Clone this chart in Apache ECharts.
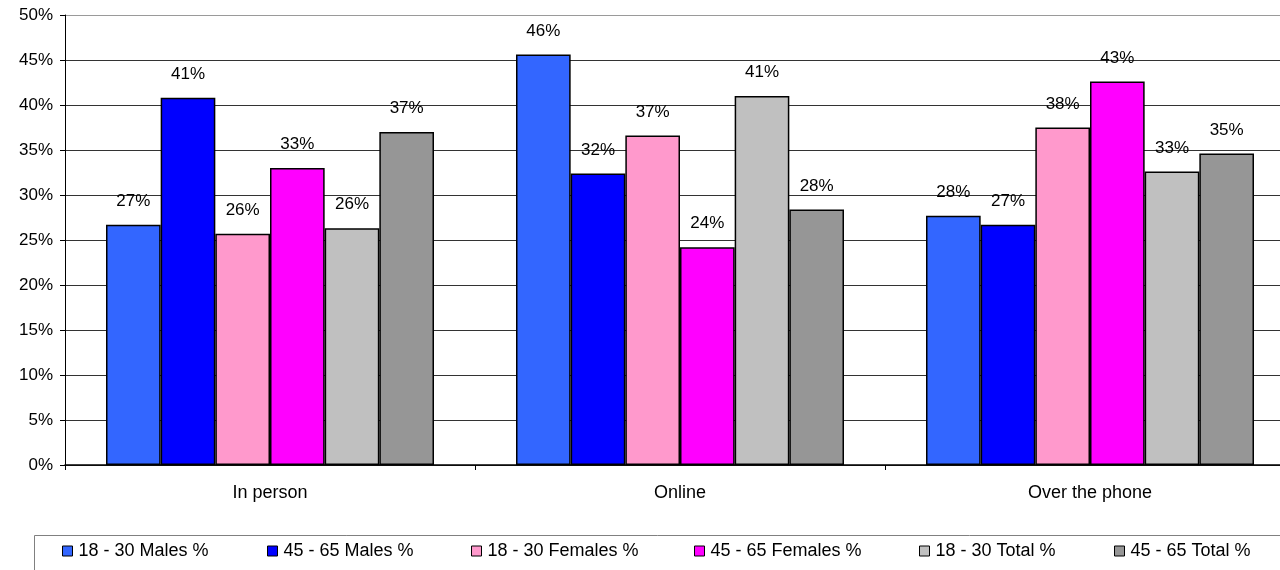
<!DOCTYPE html>
<html>
<head>
<meta charset="utf-8">
<script src="https://cdn.jsdelivr.net/npm/echarts@6/dist/echarts.min.js"></script>
<style>
  html, body { margin: 0; padding: 0; background: #fff; }
  #chart { width: 1280px; height: 570px; }
</style>
</head>
<body>
<div id="chart"></div>
<script>
// Contact channel preference by age group and gender (percent)
const categories = ['In person', 'Online', 'Over the phone'];
const seriesNames = ['18 - 30 Males %', '45 - 65 Males %', '18 - 30 Females %', '45 - 65 Females %', '18 - 30 Total %', '45 - 65 Total %'];
const males18to30   = [26.7, 45.6, 27.7];
const males45to65   = [40.8, 32.4, 26.7];
const females18to30 = [25.7, 36.6, 37.5];
const females45to65 = [33.0, 24.2, 42.6];
const total18to30   = [26.3, 41.0, 32.6];
const total45to65   = [37.0, 28.4, 34.6];
const yTicks = [0, 5, 10, 15, 20, 25, 30, 35, 40, 45, 50];

const seriesValues = [males18to30, males45to65, females18to30, females45to65, total18to30, total45to65];
const colors = ['#3366FF', '#0000FF', '#FF99CC', '#FF00FF', '#C0C0C0', '#969696'];
const legendLefts = [62, 267, 471, 694, 919, 1114];
const FONT = "'Liberation Sans', Arial, sans-serif";

const chart = echarts.init(document.getElementById('chart'));

// the top boundary line (50%) is lighter than the inner gridlines
const gridColors = yTicks.map((t, i) => i === yTicks.length - 1 ? '#9a9a9a' : '#333');

const option = {
  backgroundColor: '#fff',
  animation: false,
  textStyle: { fontFamily: FONT, color: '#000' },
  // plot area runs past the right edge of the canvas
  grid: { left: 65, top: 15, width: 1230, height: 450, containLabel: false, outerBoundsMode: 'none' },
  graphic: [{
    type: 'rect',
    z: -1,
    shape: { x: 34.5, y: 535.5, width: 1400, height: 100 },
    style: { fill: 'none', stroke: '#808080', lineWidth: 1 }
  }],
  legend: seriesNames.map((name, i) => ({
    data: [name],
    left: legendLefts[i],
    top: 542,
    padding: 0,
    icon: 'rect',
    itemWidth: 10,
    itemHeight: 10,
    itemGap: 0,
    selectedMode: false,
    itemStyle: { borderColor: '#000', borderWidth: 1 },
    textStyle: { fontFamily: FONT, fontSize: 18, color: '#000', padding: [0, 0, 0, 1] }
  })),
  xAxis: {
    type: 'category',
    data: categories,
    boundaryGap: true,
    axisLine: { lineStyle: { color: '#000', width: 1.5 } },
    axisTick: { show: true, length: 5, lineStyle: { color: '#000' } },
    axisLabel: { fontFamily: FONT, fontSize: 18, color: '#000', margin: 19 },
    splitLine: { show: false }
  },
  yAxis: {
    type: 'value',
    min: yTicks[0],
    max: yTicks[yTicks.length - 1],
    interval: 5,
    axisLine: { show: true, lineStyle: { color: '#000', width: 1 } },
    axisTick: { show: true, length: 5, lineStyle: { color: '#000' } },
    axisLabel: { fontFamily: FONT, fontSize: 17, color: '#000', margin: 12, formatter: '{value}%' },
    splitLine: { show: true, lineStyle: { color: gridColors, width: 1 } }
  },
  series: seriesNames.map((name, i) => ({
    name: name,
    type: 'bar',
    data: seriesValues[i],
    barGap: '0%',
    barCategoryGap: '20%',
    itemStyle: { color: colors[i], borderColor: '#000', borderWidth: 1.5 },
    label: {
      show: true,
      position: 'top',
      distance: 15,
      fontFamily: FONT,
      fontSize: 17,
      color: '#000',
      formatter: p => Math.round(p.value) + '%'
    }
  }))
};

chart.setOption(option);
</script>
</body>
</html>
